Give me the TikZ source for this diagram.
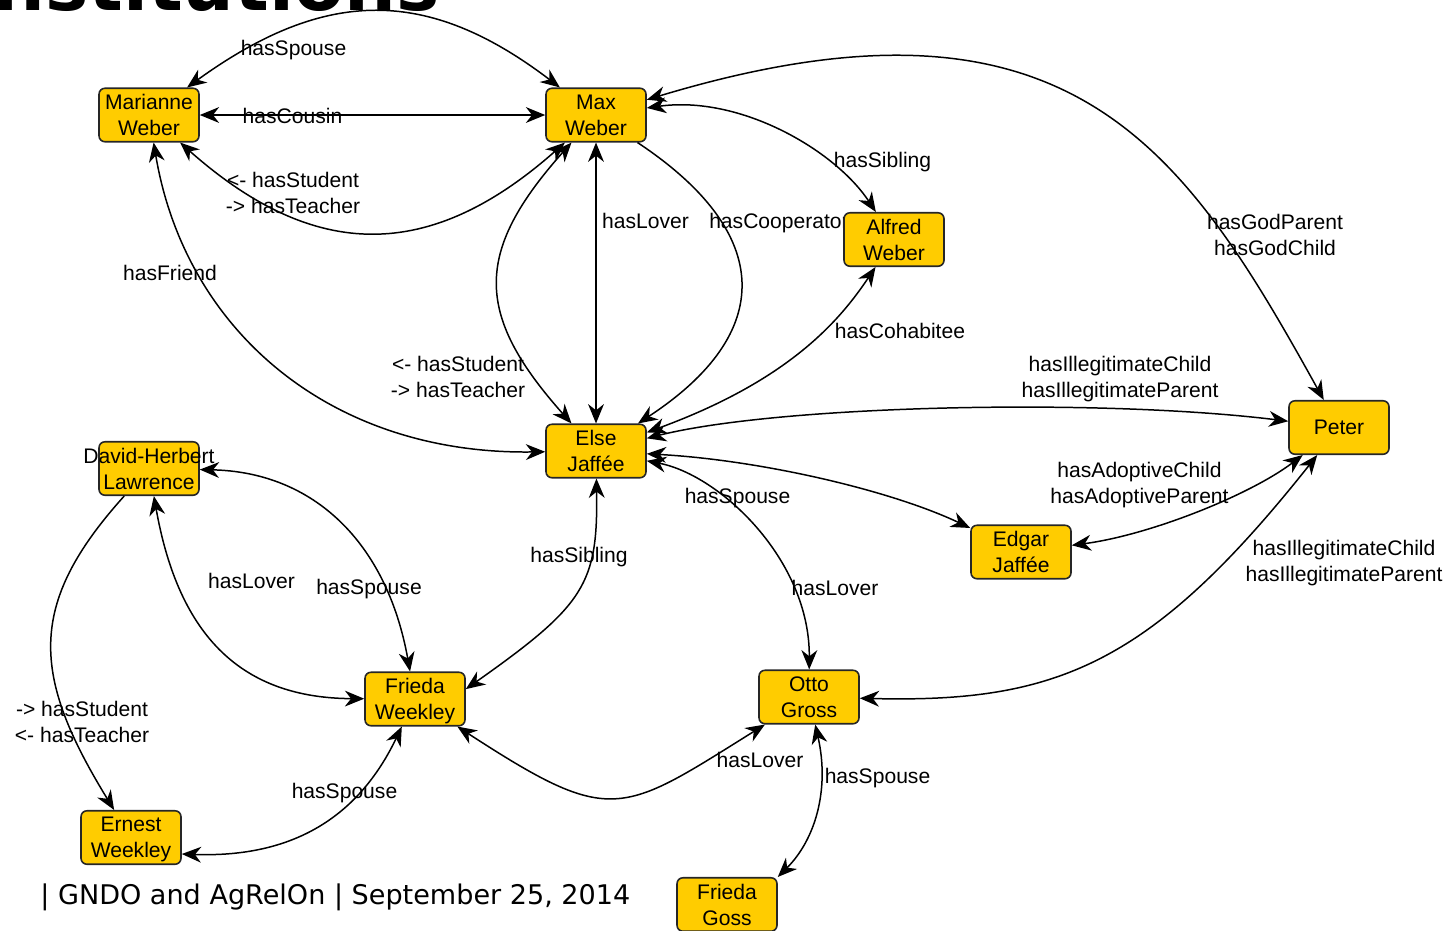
\documentclass[tikz,border=0pt]{standalone}
\usepackage{fontspec}
\setmainfont{Liberation Sans}
\newfontfamily\titlefont{DejaVu Sans}
\newfontfamily\footfont{DejaVu Sans}
\usetikzlibrary{arrows.meta}
\definecolor{persongold}{HTML}{FFCC00}

\begin{document}
\begin{tikzpicture}[x=0.02cm,y=-0.02cm,
    person/.style={draw=black!85,fill=persongold,rounded corners=3.4pt,line width=0.9pt,
      minimum width=2cm,minimum height=1.07cm,inner sep=0pt,align=center,
      font=\fontsize{12}{14.8}\selectfont,text depth=0pt},
    relation/.style={inner sep=0pt,align=center,font=\fontsize{12}{14.8}\selectfont,text depth=0pt},
    link/.style={line width=0.85pt,{Stealth[length=11pt,width=9pt,inset=3.5pt]}-{Stealth[length=11pt,width=9pt,inset=3.5pt]}},
    onelink/.style={line width=0.85pt,-{Stealth[length=11pt,width=9pt,inset=3.5pt]}}]
    \useasboundingbox (0,0) rectangle (1447,930);
    \clip (0,0) rectangle (1447,930);

    \node[anchor=base west,inner sep=0pt,font=\titlefont\bfseries\fontsize{41.4}{48}\selectfont] (title) at (-34,10) {Institutions};
    \node[anchor=base west,inner sep=0pt,font=\footfont\fontsize{15.4}{18}\selectfont] (footer) at (40,904) {| GNDO and AgRelOn | September 25, 2014};

    % relation labels
    \node[relation] (sp1) at (293.5,47.5) {hasSpouse};
    \node[relation] (cous) at (292.5,115.5) {hasCousin};
    \node[relation] (stud1) at (293,192.5) {<- hasStudent\\-> hasTeacher};
    \node[relation] (friend) at (170,272.5) {hasFriend};
    \node[relation] (lov1) at (645.5,220.5) {hasLover};
    \node[relation] (coop) at (779,220.5) {hasCooperator};
    \node[relation] (sib1) at (882.5,159.5) {hasSibling};
    \node[relation] (god) at (1275,235) {hasGodParent\\hasGodChild};
    \node[relation] (cohab) at (900,331) {hasCohabitee};
    \node[relation] (illeg1) at (1120,377) {hasIllegitimateChild\\hasIllegitimateParent};
    \node[relation] (stud2) at (458,376.5) {<- hasStudent\\-> hasTeacher};
    \node[relation] (sp2) at (737.5,495.5) {hasSpouse};
    \node[relation] (adopt) at (1139.5,482.5) {hasAdoptiveChild\\hasAdoptiveParent};
    \node[relation] (sib2) at (579,554.5) {hasSibling};
    \node[relation] (lov2) at (835,587.5) {hasLover};
    \node[relation] (illeg2) at (1344,560.5) {hasIllegitimateChild\\hasIllegitimateParent};
    \node[relation] (lov3) at (251.5,580.5) {hasLover};
    \node[relation] (sp3) at (369,586.5) {hasSpouse};
    \node[relation] (stud3) at (82,722) {-> hasStudent\\<- hasTeacher};
    \node[relation] (sp4) at (344.5,790.5) {hasSpouse};
    \node[relation] (lov4) at (760,759.5) {hasLover};
    \node[relation] (sp5) at (877.5,775.5) {hasSpouse};

    % persons
    \node[person] (marianne) at (149,115) {Marianne\\Weber};
    \node[person] (max) at (596,115) {Max\\Weber};
    \node[person] (alfred) at (894,239.5) {Alfred\\Weber};
    \node[person] (peter) at (1339,427.5) {Peter};
    \node[person] (else) at (596,451) {Else\\Jaffée};
    \node[person] (david) at (149,468.5) {\makebox[1.9cm]{David-Herbert}\\Lawrence};
    \node[person] (edgar) at (1021,552) {Edgar\\Jaffée};
    \node[person] (frieda) at (415,699) {Frieda\\Weekley};
    \node[person] (otto) at (809,697) {Otto\\Gross};
    \node[person] (ernest) at (131,837.5) {Ernest\\Weekley};
    \node[person] (goss) at (727,904.5) {Frieda\\Goss};

    % relations
    \draw[link] (marianne) .. controls (326,-13) and (428,-13) .. (max);
    \draw[link] (marianne) -- (max);
    \draw[link] (marianne) .. controls (315,262) and (430,262) .. (max);
    \draw[link] (marianne) .. controls (185,330) and (330,455) .. (else);
    \draw[link] (max) -- (else);
    \draw[link] (max) .. controls (474,252) and (474,314) .. (else);
    \draw[onelink] (max) .. controls (774,233) and (776,333) .. (else);
    \draw[link] (max) .. controls (740,95) and (835,150) .. (alfred);
    \draw[link] (max) .. controls (1070,-28) and (1184,148) .. (peter);
    \draw[link] (else) .. controls (790,380) and (840,320) .. (alfred);
    \draw[link] (else) .. controls (780,405) and (1100,398) .. (peter);
    \draw[link] (else) .. controls (760,460) and (890,490) .. (edgar);
    \draw[link] (else) .. controls (720,475) and (810,560) .. (otto);
    \draw[link] (peter) .. controls (1250,495) and (1150,535) .. (edgar);
    \draw[link] (peter) .. controls (1150,666) and (1055,703) .. (otto);
    \draw[link] (else) .. controls (598,584) and (585,605) .. (frieda.11);
    \draw[link] (david) .. controls (179,638) and (243,698) .. (frieda);
    \draw[link] (david) .. controls (314,472) and (387,543) .. (frieda);
    \draw[onelink] (david) .. controls (26,605) and (32,676) .. (ernest);
    \draw[link] (frieda) .. controls (359,816) and (294,858) .. (ernest.-18);
    \draw[link] (frieda) .. controls (612,827) and (620,815) .. (otto);
    \draw[link] (otto) .. controls (830,790) and (815,840) .. (goss.north east);
\end{tikzpicture}
\end{document}
